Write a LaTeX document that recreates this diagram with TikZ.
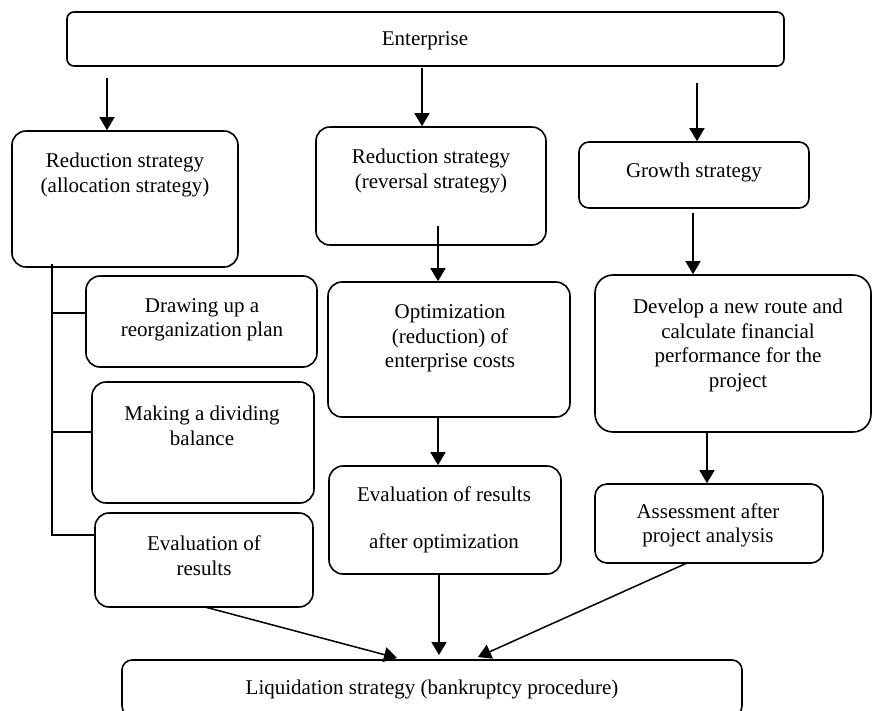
\documentclass[tikz,border=0pt]{standalone}
\usepackage{fontspec}
\setmainfont{Liberation Serif}
\usetikzlibrary{arrows.meta,calc}
\begin{document}
\begin{tikzpicture}[x=1pt,y=1pt,
  box/.style={draw,line width=1.6pt,rounded corners=#1,inner sep=0pt},
  box/.default=14pt,
  txt/.style={align=center,font=\fontsize{21}{24.5}\selectfont,inner sep=0pt},
  arr/.style={line width=1.5pt,-{Triangle[length=13pt,width=15pt]}},
  ln/.style={line width=1.5pt}]
\useasboundingbox (0,0) rectangle (872,-710);
\clip (0,0) rectangle (872,-710);
% boxes
\node[box=7pt, minimum width=717pt, minimum height=54pt] (Ent) at (425.5,-39) {};
\node[box, minimum width=226pt, minimum height=136pt] (A) at (125,-199) {};
\node[box, minimum width=230pt, minimum height=118pt] (B) at (431,-186) {};
\node[box=10pt, minimum width=230pt, minimum height=66pt] (C) at (694,-175) {};
\node[box, minimum width=231pt, minimum height=91pt] (I) at (201.5,-321.5) {};
\node[box, minimum width=222pt, minimum height=121pt] (J) at (203,-442.5) {};
\node[box, minimum width=218pt, minimum height=94pt] (H) at (204,-560) {};
\node[box, minimum width=242pt, minimum height=135pt] (D) at (449,-349.5) {};
\node[box, minimum width=232pt, minimum height=108pt] (F) at (445,-520) {};
\node[box=18pt, minimum width=276pt, minimum height=157pt] (E) at (733,-353.5) {};
\node[box=12pt, minimum width=228pt, minimum height=79pt] (G) at (709,-523.5) {};
\node[box=10pt, minimum width=620pt, minimum height=56pt] (L) at (432,-688) {};
% texts
\node[txt] (tEnt) at (425,-41) {Enterprise};
\node[txt] (tA) at (125,-175) {Reduction strategy\\(allocation strategy)};
\node[txt] (tB) at (431,-171) {Reduction strategy\\(reversal strategy)};
\node[txt] (tC) at (694,-172) {Growth strategy};
\node[txt] (tI) at (202,-320) {Drawing up a\\reorganization plan};
\node[txt] (tJ) at (202,-426) {Making a dividing\\balance};
\node[txt] (tH) at (204,-555.5) {Evaluation of\\results};
\node[txt] (tD) at (450,-338.5) {Optimization\\(reduction) of\\enterprise costs};
\node[txt] (tF) at (444,-519.5) {Evaluation of results\\[22.5pt]after optimization};
\node[txt] (tE) at (738,-345.5) {Develop a new route and\\calculate financial\\performance for the\\project};
\node[txt] (tG) at (708,-525.5) {Assessment after\\project analysis};
\node[txt] (tL) at (432,-689) {Liquidation strategy (bankruptcy procedure)};
% arrows
\coordinate (s1) at (107,-78);
\coordinate (s2) at (422,-68);
\coordinate (s3) at (697,-83);
\coordinate (s4) at (438,-226);
\coordinate (s5) at (693,-213);
\coordinate (s6) at (438,-417);
\coordinate (s7) at (707,-432);
\draw[arr] (s1) -- (s1 |- A.north);
\draw[arr] (s2) -- (s2 |- B.north);
\draw[arr] (s3) -- (s3 |- C.north);
\draw[arr] (s4) -- (s4 |- D.north);
\draw[arr] (s5) -- (s5 |- E.north);
\draw[arr] (s6) -- (s6 |- F.north);
\draw[arr] (s7) -- (s7 |- G.north);
\coordinate (s8) at (205,-607);
\coordinate (t8) at (397,-658);
\coordinate (s9) at (439,-574);
\coordinate (t9) at (439,-655);
\coordinate (s10) at (687,-563);
\coordinate (t10) at (478,-657);
\draw[arr] (s8) -- (t8);
\draw[arr] (s9) -- (t9);
\draw[arr] (s10) -- (t10);
% left tree
\coordinate (r0) at (52,-264);
\coordinate (r1) at (52,-313);
\coordinate (r2) at (52,-432);
\coordinate (r3) at (52,-535);
\draw[ln] (r0) -- (r3) -- (r3 -| H.west);
\draw[ln] (r1) -- (r1 -| I.west);
\draw[ln] (r2) -- (r2 -| J.west);
\end{tikzpicture}
\end{document}
